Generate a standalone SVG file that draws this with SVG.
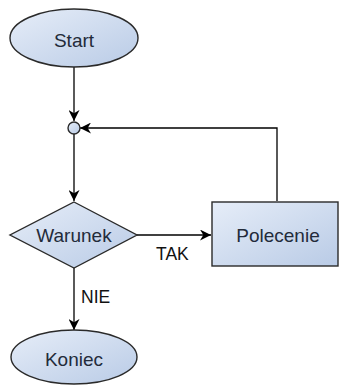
<svg xmlns="http://www.w3.org/2000/svg" width="341" height="387" viewBox="0 0 341 387">
<defs>
<linearGradient id="g" x1="0" y1="0" x2="1" y2="1">
<stop offset="0" stop-color="#e6edf8"/>
<stop offset="1" stop-color="#b9cbe6"/>
</linearGradient>
<marker id="arr" viewBox="0 0 10 10" refX="10" refY="5" markerWidth="11" markerHeight="11" markerUnits="userSpaceOnUse" orient="auto">
<path d="M0,0 L10,5 L0,10 L3,5 Z" fill="#000"/>
</marker>
<style>
.shape{fill:url(#g);stroke:#2a2a2a;stroke-width:1.4}
.t{font-family:"Liberation Sans",Arial,sans-serif;font-size:19px;fill:#232b3a;text-anchor:middle;dominant-baseline:central}
.lbl{font-family:"Liberation Sans",Arial,sans-serif;font-size:17.5px;fill:#111}
.c{fill:none;stroke:#000;stroke-width:1.3}
</style>
</defs>
<rect width="341" height="387" fill="#fff"/>
<g id="connectors">
<path class="c" d="M74,67 V121" marker-end="url(#arr)"/>
<path class="c" d="M277,201 V128 H80" marker-end="url(#arr)"/>
<path class="c" d="M74,134 V201" marker-end="url(#arr)"/>
<path class="c" d="M137,235 H211" marker-end="url(#arr)"/>
<path class="c" d="M74,268 V330" marker-end="url(#arr)"/>
<text class="lbl" x="156" y="260">TAK</text>
<text class="lbl" x="81" y="303">NIE</text>
</g>
<g id="start">
<ellipse class="shape" cx="74" cy="38" rx="64" ry="29"/>
<text class="t" x="74" y="40">Start</text>
</g>
<g id="join">
<circle class="shape" cx="74" cy="128" r="6"/>
</g>
<g id="warunek">
<polygon class="shape" points="74,202 137,235 74,268 10,235"/>
<text class="t" x="74" y="235">Warunek</text>
</g>
<g id="polecenie">
<rect class="shape" x="212" y="202" width="126" height="64"/>
<text class="t" x="278" y="235">Polecenie</text>
</g>
<g id="koniec">
<ellipse class="shape" cx="74" cy="357" rx="63" ry="27"/>
<text class="t" x="74" y="359">Koniec</text>
</g>
</svg>
